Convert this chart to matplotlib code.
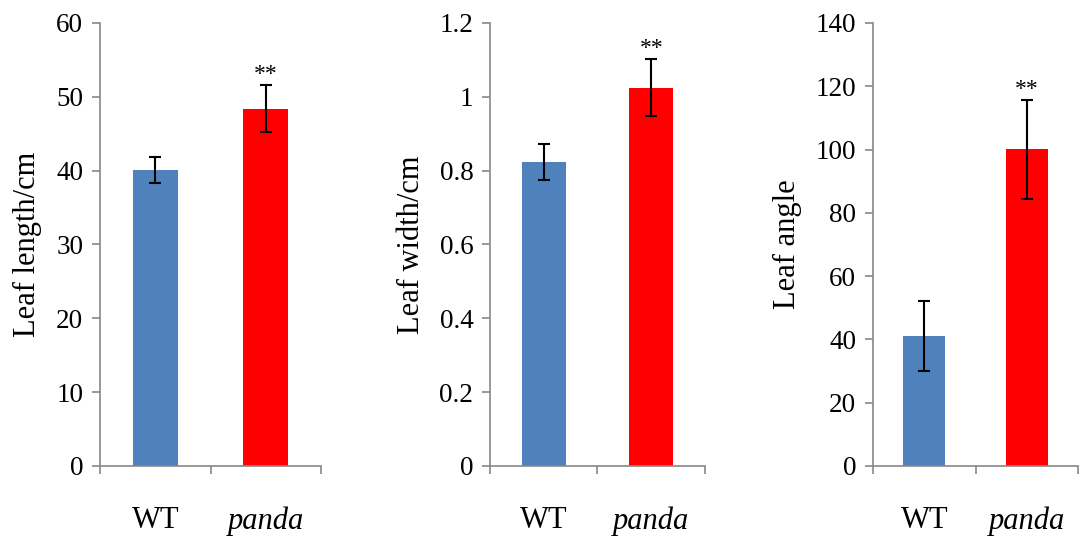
import matplotlib.pyplot as plt

plt.rcParams['font.family'] = ['Liberation Serif', 'DejaVu Serif']

genotypes = ["WT", "panda"]
bar_colors = ["#4F81BD", "#FF0000"]

leaf_length = [40.1, 48.4]
leaf_length_err = [1.75, 3.2]

leaf_width = [0.823, 1.025]
leaf_width_err = [0.048, 0.076]

leaf_angle = [41.1, 100.1]
leaf_angle_err = [11.0, 15.7]

panels = [
    ("Leaf length/cm", leaf_length, leaf_length_err, 60, 10, [0.0927, 0.1512, 0.2048, 0.807]),
    ("Leaf width/cm", leaf_width, leaf_width_err, 1.2, 0.2, [0.4541, 0.1512, 0.1993, 0.807]),
    ("Leaf angle", leaf_angle, leaf_angle_err, 140, 20, [0.8091, 0.1512, 0.19, 0.807]),
]

fig = plt.figure(figsize=(10.79, 5.49), dpi=100)

for ylabel, vals, errs, ymax, step, pos in panels:
    ax = fig.add_axes(pos)
    x = range(len(vals))
    ax.bar(x, vals, width=0.41, color=bar_colors, zorder=2)
    ax.errorbar(x, vals, yerr=errs, fmt="none", ecolor="black",
                elinewidth=1.5, capsize=4.5, capthick=1.5, zorder=3)
    # significance mark over the mutant
    ax.annotate("**", (1, vals[1] + errs[1]), xytext=(0, 0),
                textcoords="offset points", ha="center", va="bottom", fontsize=17)

    ax.set_xlim(-0.5, 1.5)
    ax.set_ylim(0, ymax)
    ticks = [round(i * step, 1) for i in range(int(round(ymax / step)) + 1)]
    ax.set_yticks(ticks)
    ax.set_yticklabels([("%g" % t) for t in ticks])

    ax.set_xticks([0, 1])
    ax.set_xticklabels(genotypes)
    ax.get_xticklabels()[1].set_style("italic")
    ax.set_xticks([-0.5, 0.5, 1.5], minor=True)
    ax.tick_params(axis="x", which="major", length=0, pad=29, labelsize=22)
    ax.tick_params(axis="x", which="minor", length=6, width=1.2, color="#888888", direction="out")
    ax.tick_params(axis="y", length=6, width=1.2, color="#888888", labelsize=19.5, pad=6)

    ax.set_ylabel(ylabel, fontsize=22, labelpad=10)

    for side in ["top", "right"]:
        ax.spines[side].set_visible(False)
    for side in ["left", "bottom"]:
        ax.spines[side].set_color("#888888")
        ax.spines[side].set_linewidth(1.2)

fig.savefig("out.png", dpi=100)
